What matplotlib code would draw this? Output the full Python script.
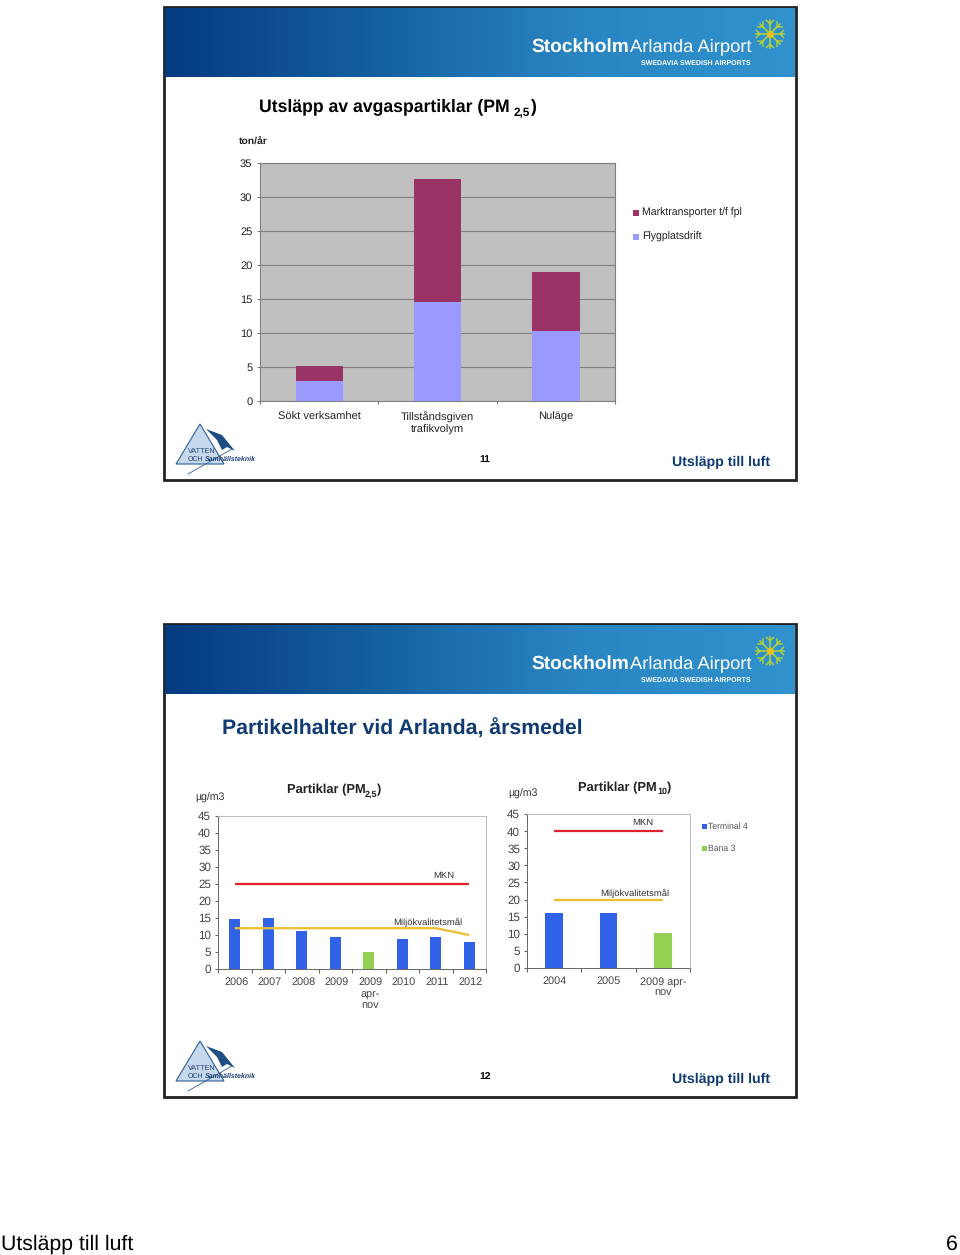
import matplotlib
matplotlib.use('Agg')
import matplotlib.pyplot as plt
import numpy as np
from matplotlib.patches import Rectangle, Polygon

plt.rcParams['font.family'] = ['Liberation Sans', 'DejaVu Sans']
plt.rcParams['text.hinting'] = 'none'

# slide 11 - PM 2,5 emissions
kategorier = ['Sökt verksamhet', 'Tillståndsgiven\ntrafikvolym', 'Nuläge']
flygplats = [3.0, 14.6, 10.3]
marktransport = [2.2, 18.1, 8.7]

# slide 12 left - PM 2,5 concentrations
ar_pm25 = ['2006', '2007', '2008', '2009', '2009\napr-\nnov', '2010', '2011', '2012']
varden_pm25 = [14.8, 14.9, 11.2, 9.4, 4.9, 8.7, 9.4, 8.0]
farg_pm25 = ['b', 'b', 'b', 'b', 'g', 'b', 'b', 'b']
mkn_pm25 = [25, 25, 25, 25, 25, 25, 25, 25]
mal_pm25 = [12, 12, 12, 12, 12, 12, 12, 10]

# slide 12 right - PM 10 concentrations
ar_pm10 = ['2004', '2005', '2009 apr-\nnov']
varden_pm10 = [16, 16, 10.3]
farg_pm10 = ['b', 'b', 'g']
mkn_pm10 = [40, 40, 40]
mal_pm10 = [20, 20, 20]

W, H = 960, 1255
BLA = '#2F62E6'
GRON = '#92D050'
fig = plt.figure(figsize=(W / 100, H / 100), dpi=100)

# page layer in pixel coordinates
bg = fig.add_axes([0, 0, 1, 1])
bg.set_xlim(0, W)
bg.set_ylim(H, 0)
bg.axis('off')

def pixel_axes(x0, y0, x1, y1):
    return fig.add_axes([x0 / W, 1 - y1 / H, (x1 - x0) / W, (y1 - y0) / H])

def snowflake(cx, cy):
    for a in np.arange(0, np.pi, np.pi / 4):
        dx, dy = 14 * np.cos(a), 14 * np.sin(a)
        bg.plot([cx - dx, cx + dx], [cy - dy, cy + dy], c='#B5D334', lw=1.1, zorder=3)
        for s in (-1, 1):
            bx, by = cx + s * dx * 0.72, cy + s * dy * 0.72
            for b in (-0.8, 0.8):
                bg.plot([bx, bx + s * 5 * np.cos(a + b)], [by, by + s * 5 * np.sin(a + b)],
                        c='#B5D334', lw=1.0, zorder=3)
    bg.plot([cx], [cy], 'o', c='#E8C020', ms=4, zorder=4)

def slide(oy, nummer):
    bg.add_patch(Rectangle((164, oy + 7), 632, 473, fc='white', ec='#222222', lw=2, zorder=1))
    # header gradient
    grad = np.linspace(0, 1, 256).reshape(1, -1)
    cmap = matplotlib.colors.LinearSegmentedColormap.from_list(
        'hdr', ['#053B80', '#15609F', '#2A86C2', '#3192CE'])
    bg.imshow(grad, extent=(165, 795, oy + 77, oy + 8), cmap=cmap, aspect='auto', zorder=2)
    bg.set_xlim(0, W)
    bg.set_ylim(H, 0)
    bg.text(531, oy + 47, 'Stockholm', color='white', fontsize=13.8, fontweight='bold',
            va='center', zorder=3)
    bg.text(630, oy + 47, 'Arlanda Airport', color='white', fontsize=13.2, va='center', zorder=3)
    bg.text(751, oy + 63, 'SWEDAVIA SWEDISH AIRPORTS', color='white', fontsize=5, ha='right',
            va='center', fontweight='bold', zorder=3)
    snowflake(770, oy + 34)
    # consultant logo
    bg.add_patch(Polygon([(176, oy + 464), (200, oy + 424), (224, oy + 464)], fc='#C6D9EC',
                         ec='#2F5F96', lw=0.8, zorder=2))
    bg.add_patch(Polygon([(206, oy + 429), (222, oy + 435), (235, oy + 451), (227, oy + 447),
                          (222, oy + 450), (217, oy + 440)], fc='#1F4E82', ec='none', zorder=3))
    bg.plot([188, 232], [oy + 474, oy + 449], c='#2F5F96', lw=0.6, zorder=3)
    bg.text(188, oy + 451, 'VATTEN', fontsize=5.2, color='#1F3F70', va='center', zorder=4)
    bg.text(188, oy + 459, 'OCH', fontsize=5, color='#1F3F70', va='center', zorder=4)
    bg.text(205, oy + 459, 'Samhällsteknik', fontsize=5, color='#1F3F70', va='center',
            style='italic', fontweight='bold', zorder=4)
    bg.text(485, oy + 459, nummer, fontsize=7.5, fontweight='bold', ha='center', va='center', zorder=4)
    bg.text(770, oy + 462, 'Utsläpp till luft', fontsize=10.2, fontweight='bold', color='#0F3A72',
            ha='right', va='center', zorder=4)

slide(0, '11')
slide(617, '12')

# slide 11 headings
bg.text(259, 107, 'Utsläpp av avgaspartiklar (PM', fontsize=12.7, fontweight='bold', va='center', zorder=4)
bg.text(514, 113, '2,5', fontsize=8.5, fontweight='bold', va='center', zorder=4)
bg.text(531, 107, ')', fontsize=12.7, fontweight='bold', va='center', zorder=4)
bg.text(239, 141, 'ton/år', fontsize=7.5, fontweight='bold', color='#222222', va='center', zorder=4)

# slide 11 chart
ax = pixel_axes(260, 163, 615, 401)
x = np.arange(len(kategorier))
ax.set_facecolor('#C0C0C0')
ax.bar(x, flygplats, 0.4, color='#9999FF', zorder=3)
ax.bar(x, marktransport, 0.4, bottom=flygplats, color='#993366', zorder=3)
ax.set_xlim(-0.5, 2.5)
ax.set_ylim(0, 35)
ax.set_yticks(range(0, 36, 5))
ax.grid(axis='y', color='#808080', lw=0.8, zorder=1)
ax.set_xticks([-0.5, 0.5, 1.5, 2.5])
ax.set_xticklabels([])
ax.set_xticks(x, minor=True)
ax.set_xticklabels(kategorier, minor=True, linespacing=1.15)
ax.tick_params(axis='x', which='minor', length=0, labelsize=8, pad=8, colors='#222222')
ax.tick_params(axis='x', which='major', length=2, color='#808080')
ax.tick_params(axis='y', length=2, color='#808080', labelsize=8, pad=3.5, labelcolor='#222222')
for s in ax.spines.values():
    s.set_color('#808080')
    s.set_linewidth(0.8)

# legend of slide 11
bg.add_patch(Rectangle((633, 210), 6, 6, fc='#993366', ec='none', zorder=4))
bg.text(642, 213, 'Marktransporter t/f fpl', fontsize=7.6, color='#222222', va='center', zorder=4)
bg.add_patch(Rectangle((633, 234), 6, 6, fc='#9999FF', ec='none', zorder=4))
bg.text(642, 237, 'Flygplatsdrift', fontsize=7.6, color='#222222', va='center', zorder=4)

# slide 12 headings
bg.text(222, 729, 'Partikelhalter vid Arlanda, årsmedel', fontsize=15.3, fontweight='bold',
        color='#0F3A72', va='center', zorder=4)

def partikel_chart(box, labels, values, colors, mkn, mal, bredd, skift):
    a = pixel_axes(*box)
    pos = np.arange(len(labels))
    a.bar(pos, values, bredd, color=[BLA if c == 'b' else GRON for c in colors], zorder=2)
    a.plot(pos, mkn, c='#E0202A', lw=1.6, zorder=3, solid_capstyle='butt')
    a.plot(pos, mal, c='#EDBE2E', lw=1.6, zorder=3, solid_capstyle='butt')
    a.set_xlim(-0.5, len(labels) - 0.5)
    a.set_ylim(0, 45)
    a.set_yticks(range(0, 46, 5))
    a.set_xticks(np.arange(len(labels) + 1) - 0.5)
    a.set_xticklabels([])
    a.set_xticks(pos + skift, minor=True)
    a.set_xticklabels(labels, minor=True, linespacing=1.22)
    a.tick_params(axis='x', which='minor', length=0, labelsize=7.8, pad=6, colors='#444444')
    a.tick_params(axis='x', which='major', length=3, color='#666666')
    a.tick_params(axis='y', length=2.5, color='#666666', labelsize=8.4, pad=2.5, labelcolor='#444444')
    for s in a.spines.values():
        s.set_color('#BBBBBB')
        s.set_linewidth(0.7)
    a.spines['left'].set_color('#666666')
    a.spines['bottom'].set_color('#666666')
    return a

def chart_note(px, py, txt):
    # goes on the figure, the chart axes would hide it on bg
    fig.text(px / W, 1 - py / H, txt, fontsize=6.8, color='#333333', ha='center', va='center')

partikel_chart((218, 816, 486, 969), ar_pm25, varden_pm25, farg_pm25, mkn_pm25, mal_pm25, 0.33, 0.04)
partikel_chart((527, 814, 690, 968), ar_pm10, varden_pm10, farg_pm10, mkn_pm10, mal_pm10, 0.33, 0)

bg.text(195, 798, 'µg/m3', fontsize=7.6, color='#333333', va='center', zorder=4)
bg.text(508, 794, 'µg/m3', fontsize=7.6, color='#333333', va='center', zorder=4)
bg.text(287, 790, 'Partiklar (PM', fontsize=9.3, fontweight='bold', color='#222222', va='center', zorder=4)
bg.text(365, 794, '2,5', fontsize=6.5, fontweight='bold', color='#222222', va='center', zorder=4)
bg.text(377, 790, ')', fontsize=9.3, fontweight='bold', color='#222222', va='center', zorder=4)
bg.text(578, 788, 'Partiklar (PM', fontsize=9.3, fontweight='bold', color='#222222', va='center', zorder=4)
bg.text(657, 792, '10', fontsize=6.5, fontweight='bold', color='#222222', va='center', zorder=4)
bg.text(667, 788, ')', fontsize=9.3, fontweight='bold', color='#222222', va='center', zorder=4)
chart_note(444, 876, 'MKN')
chart_note(428, 922, 'Miljökvalitetsmål')
chart_note(643, 823, 'MKN')
chart_note(635, 893, 'Miljökvalitetsmål')

bg.add_patch(Rectangle((702, 824), 5, 5, fc=BLA, ec='none', zorder=4))
bg.text(708, 826.5, 'Terminal 4', fontsize=6.2, color='#555555', va='center', zorder=4)
bg.add_patch(Rectangle((702, 846), 5, 5, fc=GRON, ec='none', zorder=4))
bg.text(708, 848.5, 'Bana 3', fontsize=6.2, color='#555555', va='center', zorder=4)

# page footer
bg.text(1, 1244, 'Utsläpp till luft', fontsize=15.3, color='black', va='center', zorder=4)
bg.text(958, 1244, '6', fontsize=15.3, color='black', ha='right', va='center', zorder=4)

fig.savefig('out.png', dpi=100)
